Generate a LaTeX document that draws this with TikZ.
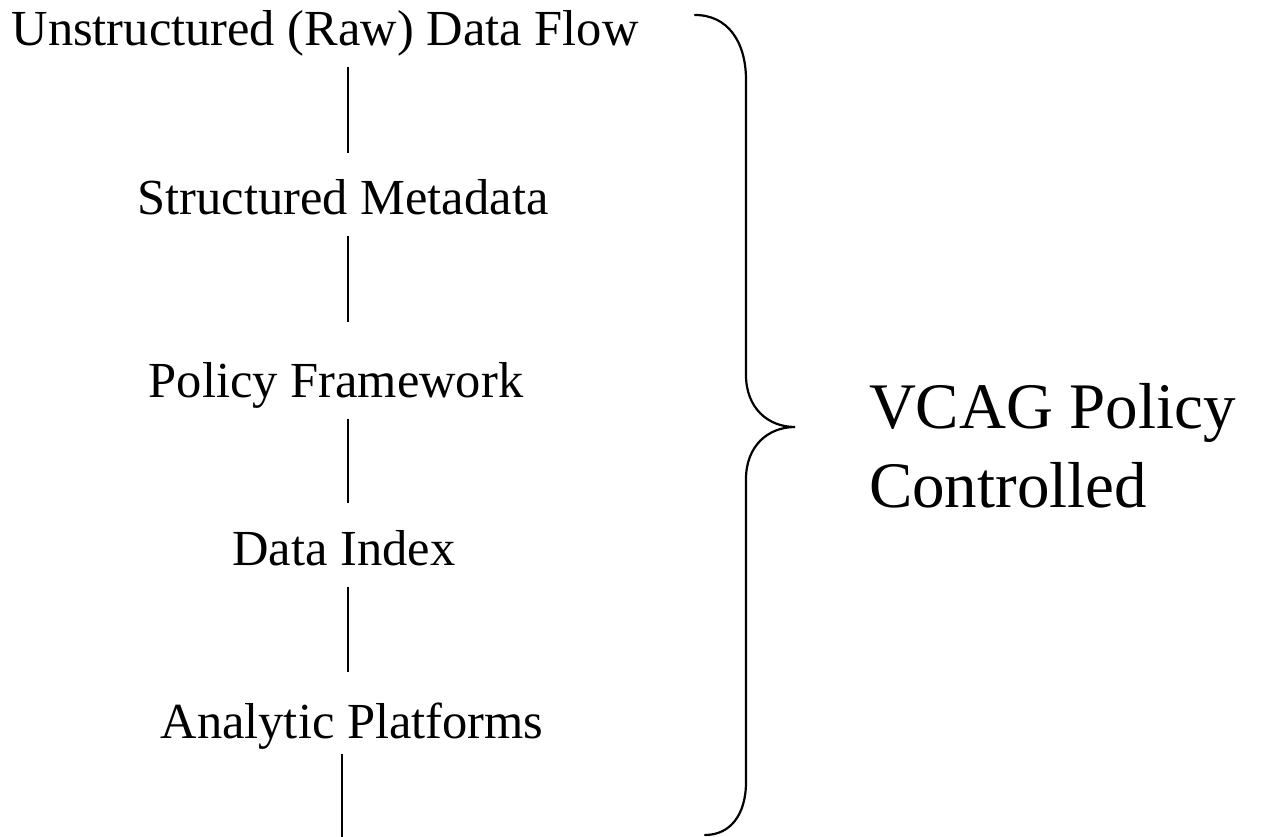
\documentclass[tikz,border=0pt]{standalone}
\usepackage{fontspec}
\setmainfont{Liberation Serif}
\begin{document}
\begin{tikzpicture}[x=1pt,y=-1pt,
  lbl/.style={anchor=base,inner sep=0pt,outer sep=0pt,text height=36pt,text depth=11pt,font=\fontsize{50.5}{60}\selectfont},
  big/.style={anchor=base west,inner sep=0pt,outer sep=0pt,font=\fontsize{65}{79}\selectfont},
  conn/.style={line width=2pt,shorten <=10.5pt},
  brace/.style={line width=2.2pt,line cap=round}]
\useasboundingbox (0,0) rectangle (1270,837);
\node[lbl] (n1) at (325,46) {Unstructured (Raw) Data Flow};
\node[lbl] (n2) at (343,215) {Structured Metadata};
\node[lbl] (n3) at (336,397) {Policy Framework};
\node[lbl] (n4) at (344,565) {Data Index};
\node[lbl] (n5) at (352,738) {Analytic Platforms};
\coordinate (lx) at (348,0);
\coordinate (lx5) at (342,0);
\coordinate (bot) at (342,838);
\draw[conn,shorten >=26pt] (n1.south -| lx) -- (n2.north -| lx);
\draw[conn,shorten >=39pt] (n2.south -| lx) -- (n3.north -| lx);
\draw[conn,shorten >=26pt] (n3.south -| lx) -- (n4.north -| lx);
\draw[conn,shorten >=30pt] (n4.south -| lx) -- (n5.north -| lx);
\draw[line width=2pt,shorten <=5pt] (n5.south -| lx5) -- (bot);
\draw[brace] (695,15) .. controls (728,15) and (746,42) .. (746,80)
  -- (746,375) .. controls (746,408) and (768,427) .. (795,427)
  .. controls (768,427) and (746,446) .. (746,479)
  -- (746,782) .. controls (746,815) and (730,835) .. (705,835);
\node[big] (v1) at (869,428) {VCAG Policy};
\node[big] (v2) at (869,507) {Controlled};
\end{tikzpicture}
\end{document}
